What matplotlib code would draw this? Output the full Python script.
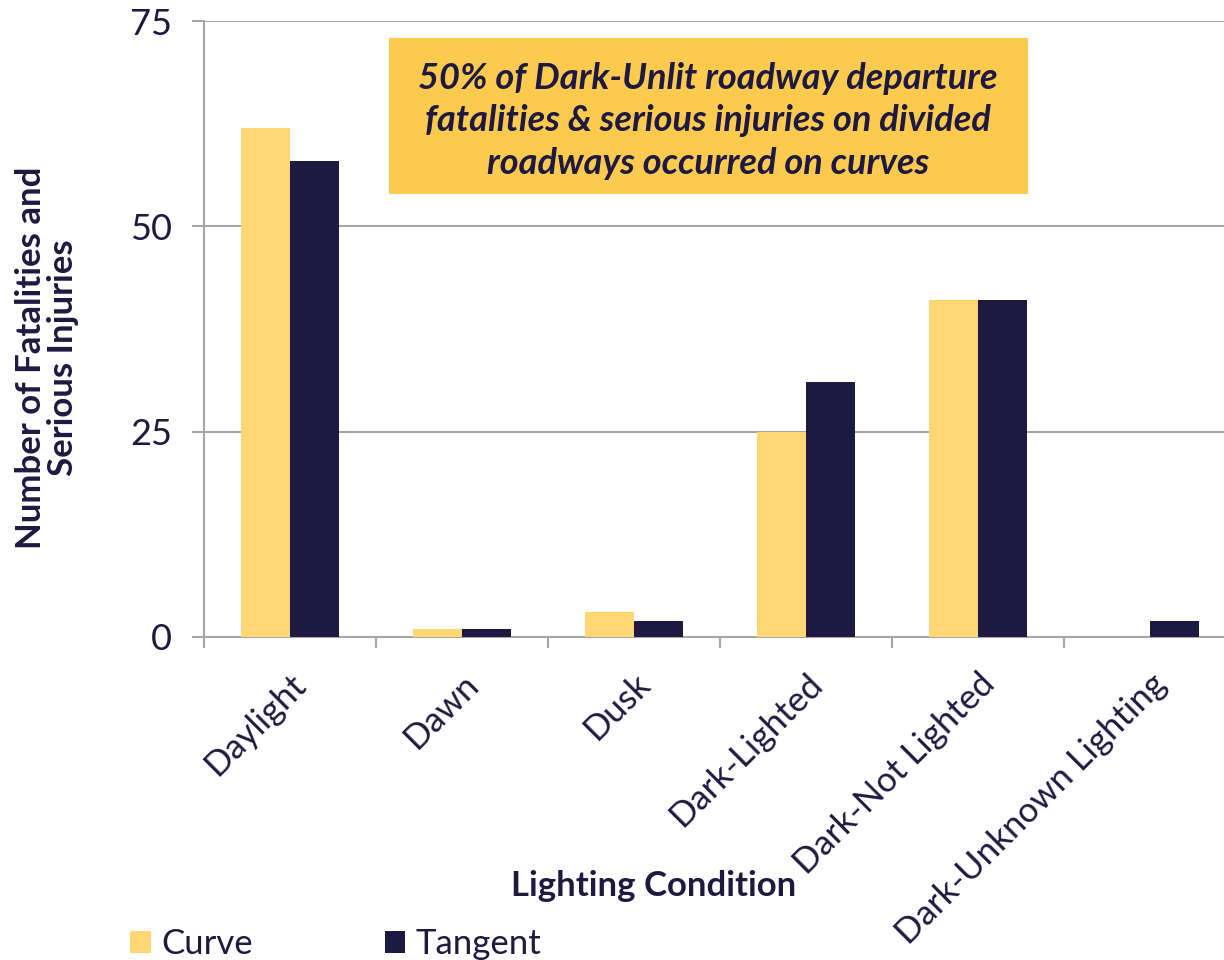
import matplotlib
matplotlib.use("Agg")
import matplotlib.pyplot as plt
import numpy as np
from matplotlib.patches import Rectangle

# data
categories = ["Daylight", "Dawn", "Dusk", "Dark-Lighted", "Dark-Not Lighted", "Dark-Unknown Lighting"]
curve = [62, 1, 3, 25, 41, 0]
tangent = [58, 1, 2, 31, 41, 2]

navy = "#1D1941"
yellow = "#FED673"
box_col = "#FDCA50"
grid_col = "#A6A6A6"

plt.rcParams['font.family'] = ['Lato', 'DejaVu Sans']

fig = plt.figure(figsize=(12.24, 9.6), dpi=100)
# the plot runs a little past the right edge of the figure, as in the original
ax = fig.add_axes([0.1667, 0.3365, 0.8431, 0.6415])

x = np.arange(len(categories))
w = 0.285
ax.bar(x - w/2, curve, w, color=yellow, label="Curve", zorder=3)
ax.bar(x + w/2, tangent, w, color=navy, label="Tangent", zorder=3)

ax.set_xlim(-0.5, len(categories) - 0.5)
ax.set_ylim(0, 75)
ax.set_yticks([0, 25, 50, 75])
ax.yaxis.grid(True, color=grid_col, linewidth=1.5, zorder=0)
ax.tick_params(axis='y', length=9, width=1.5, color=grid_col, labelsize=26, labelcolor=navy, pad=14)

# category labels in between boundary ticks
ax.set_xticks(np.arange(-0.5, len(categories), 1.0))
ax.set_xticklabels([])
ax.set_xticks(x, minor=True)
ax.set_xticklabels(categories, minor=True, rotation=45, ha='right', rotation_mode='anchor',
                   fontsize=25, color=navy)
ax.tick_params(axis='x', which='major', length=8, width=1.5, color=grid_col)
ax.tick_params(axis='x', which='minor', length=0, pad=22)

for s in ['top', 'right']:
    ax.spines[s].set_visible(False)
for s in ['left', 'bottom']:
    ax.spines[s].set_color(grid_col)
    ax.spines[s].set_linewidth(1.5)

ax.set_ylabel("Number of Fatalities and\nSerious Injuries", fontsize=25, fontweight='bold',
              color=navy, linespacing=1.0)
ax.yaxis.set_label_coords(-0.121, 0.453)
ax.set_xlabel("Lighting Condition", fontsize=25, fontweight='bold', color=navy)
ax.xaxis.set_label_coords(0.436, -0.378)

# annotation box
ax.add_patch(Rectangle((0.1793, 0.719), 0.6192, 0.253, transform=ax.transAxes,
                       facecolor=box_col, edgecolor='none', zorder=4))
ax.text(0.488, 0.838, "50% of Dark-Unlit roadway departure\nfatalities & serious injuries on divided\nroadways occurred on curves",
        transform=ax.transAxes, ha='center', va='center', fontsize=26, fontweight='bold',
        fontstyle='italic', color=navy, linespacing=1.35, zorder=5)

fig.legend(loc='lower left', bbox_to_anchor=(0.081, -0.033), ncol=2, frameon=False,
           fontsize=25, labelcolor=navy, handlelength=0.58, handleheight=0.58,
           handletextpad=0.3, columnspacing=3.8)

fig.savefig("out.png", dpi=100)
